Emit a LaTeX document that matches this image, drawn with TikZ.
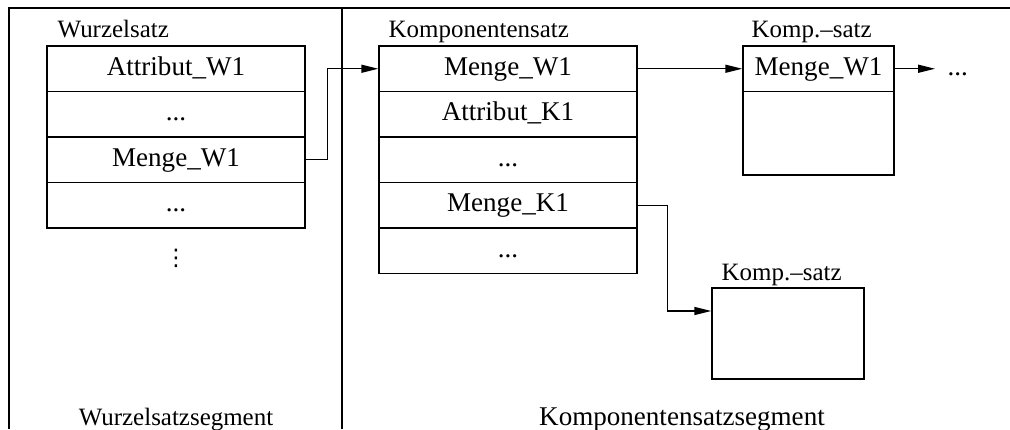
\documentclass[tikz,border=0pt]{standalone}
\usepackage{fontspec}
\setmainfont{Liberation Serif}
\newfontfamily\zeichen{DejaVu Sans}
\usetikzlibrary{arrows.meta}
\newcommand{\zeile}{\fontsize{15.4}{18}\selectfont}
\newcommand{\titel}{\fontsize{14.2}{17}\selectfont}
\tikzset{
  feld/.style={draw, minimum width=5.16cm, minimum height=0.91cm, inner sep=0pt,
    text height=0.39cm, text depth=0.13cm, font=\zeile},
  frei/.style={inner ysep=0pt, inner xsep=0.24cm, text height=0.39cm, text depth=0.13cm, font=\zeile},
  titelzeile/.style={anchor=base west, inner sep=0pt, font=\titel},
  pfeil/.style={-{Triangle[length=0.34cm,width=0.16cm]}},
}
\begin{document}
\begin{tikzpicture}[x=0.02cm,y=-0.02cm,line width=0.8pt]
\useasboundingbox (0,0) rectangle (1010,429);
% Rahmen und Trennlinie
\draw (9,429) -- (9,8) -- (1010,8);
\draw (342,8) -- (342,429);
% Wurzelsatz
\node[titelzeile] (lw) at (57,38) {Wurzelsatz};
\node[feld] (w1) at (176,68.75) {Attribut\_W1};
\node[feld] (w2) at (176,114.25) {...};
\node[feld] (w3) at (176,159.75) {Menge\_W1};
\node[feld] (w4) at (176,205.25) {...};
\node[inner sep=0pt,font={\fontsize{13}{15}\selectfont\zeichen}] (wd) at (176,258) {⋮};
% Komponentensatz
\node[titelzeile] (lk) at (388,38) {Komponentensatz};
\node[feld] (k1) at (508,68.75) {Menge\_W1};
\node[feld] (k2) at (508,114.25) {Attribut\_K1};
\node[feld] (k3) at (508,159.75) {...};
\node[feld] (k4) at (508,205.25) {Menge\_K1};
\node[feld] (k5) at (508,250.75) {...};
% Komp.-saetze
\node[titelzeile] (ls1) at (751,38) {Komp.--satz};
\node[feld,minimum width=3.02cm] (s1) at (818.5,68.75) {Menge\_W1};
\node[feld,minimum width=3.02cm,minimum height=1.67cm] (s1u) at (818.5,133.25) {};
\node[frei,anchor=west] (weiter) at (935,68.75) {...};
\node[titelzeile] (ls2) at (721,280) {Komp.--satz};
\node[feld,minimum width=3.04cm,minimum height=1.82cm] (s2) at (788,333.5) {};
% Verweise
\draw[pfeil] (w3.east) -- ++(22,0) |- (k1.west);
\draw[pfeil] (k1.east) -- (k1.east -| s1.west);
\draw[pfeil] (s1.east) -- (s1.east -| weiter.west);
\draw[pfeil] (k4.east) -- ++(30,0) |- ([yshift=0.45cm]s2.west);
% Segmente
\node[anchor=base,font=\titel] (sw) at (176,425) {Wurzelsatzsegment};
\node[anchor=base,font=\zeile] (sk) at (682,425) {Komponentensatzsegment};
\end{tikzpicture}
\end{document}
